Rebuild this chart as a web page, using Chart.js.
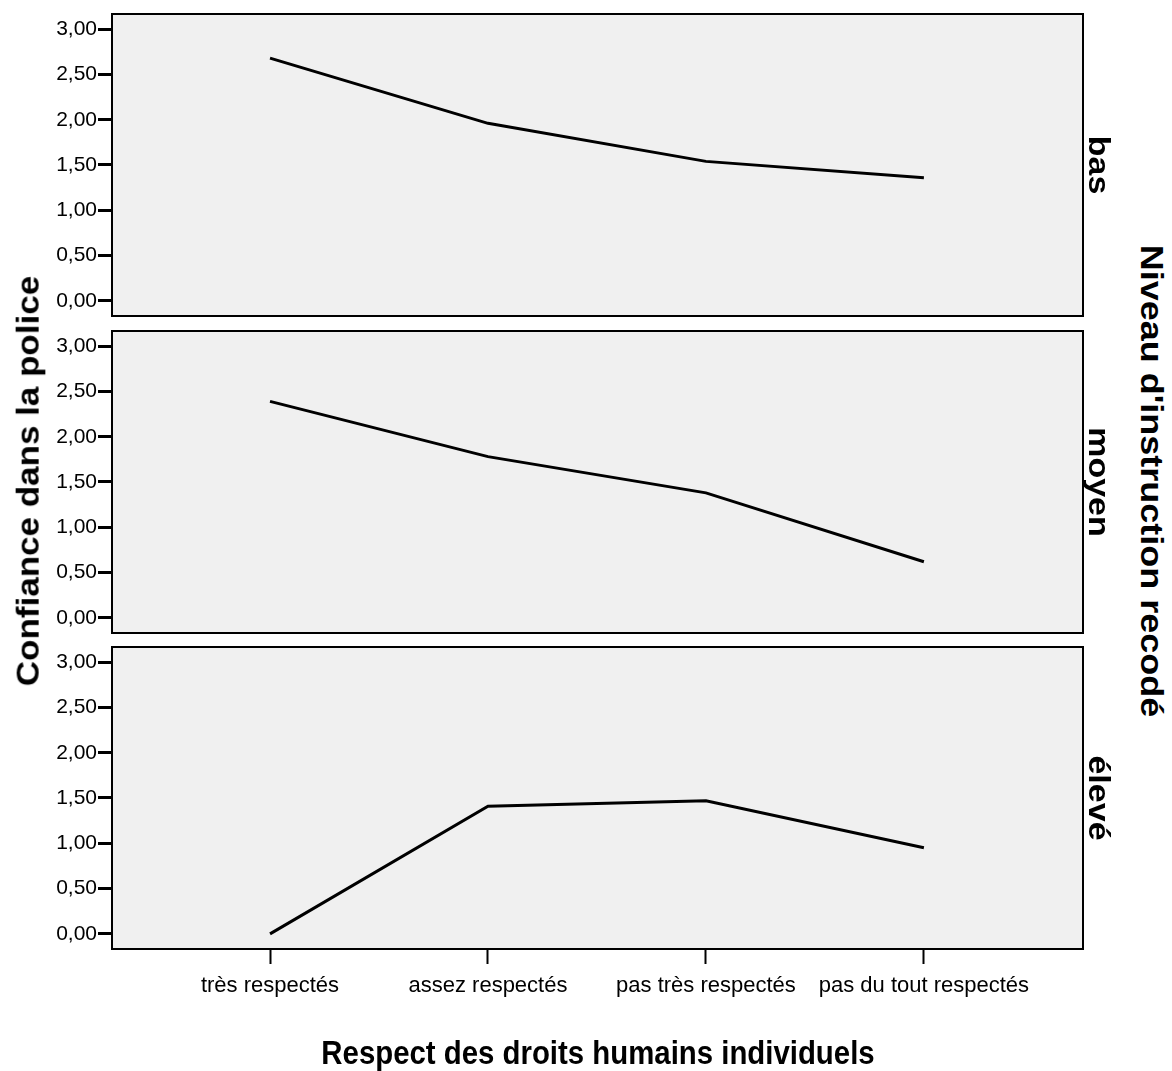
<!DOCTYPE html>
<html>
<head>
<meta charset="utf-8">
<script src="https://cdn.jsdelivr.net/npm/chart.js@4/dist/chart.umd.min.js"></script>
<style>
  body { margin: 0; background: #fff; overflow: hidden; }
  #wrap { position: relative; width: 1172px; height: 1071px; font-family: 'Liberation Sans', Arial, sans-serif; color: #000; }
  canvas { position: absolute; left: 0; }
  .lbl { position: absolute; white-space: nowrap; font-weight: bold; line-height: 1; }
</style>
</head>
<body>
<div id="wrap">
  <canvas id="p0" width="1090" height="342"></canvas>
  <canvas id="p1" width="1090" height="342"></canvas>
  <canvas id="p2" width="1090" height="412"></canvas>

  <div class="lbl" id="ytitle" style="font-size:35px; left:28px; top:481px; transform: translate(-50%,-50%) rotate(-90deg) scaleY(0.89);">Confiance dans la police</div>
  <div class="lbl" id="rtitle" style="font-size:36px; left:1152px; top:481px; transform: translate(-50%,-50%) rotate(90deg) scaleY(0.89);">Niveau d'instruction recodé</div>
  <div class="lbl" id="xtitle" style="font-size:33px; left:598px; top:1052px; transform: translate(-50%,-50%) scaleX(0.89);">Respect des droits humains individuels</div>
</div>

<script>
var categories = ['très respectés', 'assez respectés', 'pas très respectés', 'pas du tout respectés'];
var niveaux = ['bas', 'moyen', 'élevé'];
var bas = [2.68, 1.96, 1.54, 1.36];
var moyen = [2.39, 1.78, 1.38, 0.62];
var eleve = [0.00, 1.41, 1.47, 0.95];
var yTicks = [0, 0.5, 1, 1.5, 2, 2.5, 3];

var series = [bas, moyen, eleve];
var panelTops = [14, 331, 647];
var panelHeight = 302;
var pad = 20;

// grey box with a black frame round each panel
var panelFrame = {
    id: 'panelFrame',
    beforeDraw: function(chart) {
        var a = chart.chartArea;
        var ctx = chart.ctx;
        ctx.save();
        ctx.fillStyle = '#f0f0f0';
        ctx.fillRect(a.left, a.top, a.right - a.left, a.bottom - a.top);
        ctx.restore();
    },
    afterDraw: function(chart) {
        var a = chart.chartArea;
        var ctx = chart.ctx;
        ctx.save();
        ctx.strokeStyle = '#000';
        ctx.lineWidth = 2;
        ctx.strokeRect(a.left, a.top, a.right - a.left, a.bottom - a.top);
        ctx.restore();
    }
};

function makePanel(i) {
    var canvas = document.getElementById('p' + i);
    canvas.style.top = (panelTops[i] - pad) + 'px';
    var last = (i === series.length - 1);

    var points = series[i].map(function(v, k) { return { x: k, y: v }; });

    new Chart(canvas.getContext('2d'), {
        type: 'line',
        data: {
            datasets: [{
                data: points,
                borderColor: '#000',
                borderWidth: 3,
                pointRadius: 0,
                tension: 0,
                fill: false
            }]
        },
        options: {
            responsive: false,
            animation: false,
            devicePixelRatio: 1,
            layout: { padding: { top: pad, bottom: pad, left: 0, right: 7 } },
            plugins: { legend: { display: false }, tooltip: { enabled: false } },
            scales: {
                x: {
                    type: 'linear',
                    display: last,
                    min: -0.725,
                    max: 3.73,
                    afterBuildTicks: function(scale) {
                        scale.ticks = categories.map(function(c, k) { return { value: k }; });
                    },
                    afterFit: function(scale) { scale.height = last ? 70 : 0; },
                    ticks: {
                        color: '#000',
                        padding: 9,
                        maxRotation: 0,
                        autoSkip: false,
                        font: { family: "'Liberation Sans', Arial, sans-serif", size: 22 },
                        callback: function(v) { return categories[v]; }
                    },
                    grid: {
                        drawOnChartArea: false,
                        drawTicks: true,
                        tickLength: 15,
                        tickWidth: 2,
                        tickColor: '#000'
                    },
                    border: { display: false }
                },
                y: {
                    min: -0.167,
                    max: 3.167,
                    afterBuildTicks: function(scale) {
                        scale.ticks = yTicks.map(function(v) { return { value: v }; });
                    },
                    afterFit: function(scale) { scale.width = 112; },
                    ticks: {
                        color: '#000',
                        padding: 1,
                        font: { family: "'Liberation Sans', Arial, sans-serif", size: 21 },
                        callback: function(v) { return v.toFixed(2).replace('.', ','); }
                    },
                    grid: {
                        drawOnChartArea: false,
                        drawTicks: true,
                        tickLength: 14,
                        tickWidth: 3,
                        tickColor: '#000'
                    },
                    border: { display: false }
                }
            }
        },
        plugins: [panelFrame]
    });

    // level name on the right edge of the panel
    var tag = document.createElement('div');
    tag.className = 'lbl';
    tag.textContent = niveaux[i];
    tag.style.fontSize = '34px';
    tag.style.left = '1100px';
    tag.style.top = (panelTops[i] + panelHeight / 2) + 'px';
    tag.style.transform = 'translate(-50%,-50%) rotate(90deg) scaleY(0.89)';
    document.getElementById('wrap').appendChild(tag);
}

for (var i = 0; i < series.length; i++) {
    makePanel(i);
}
</script>
</body>
</html>
